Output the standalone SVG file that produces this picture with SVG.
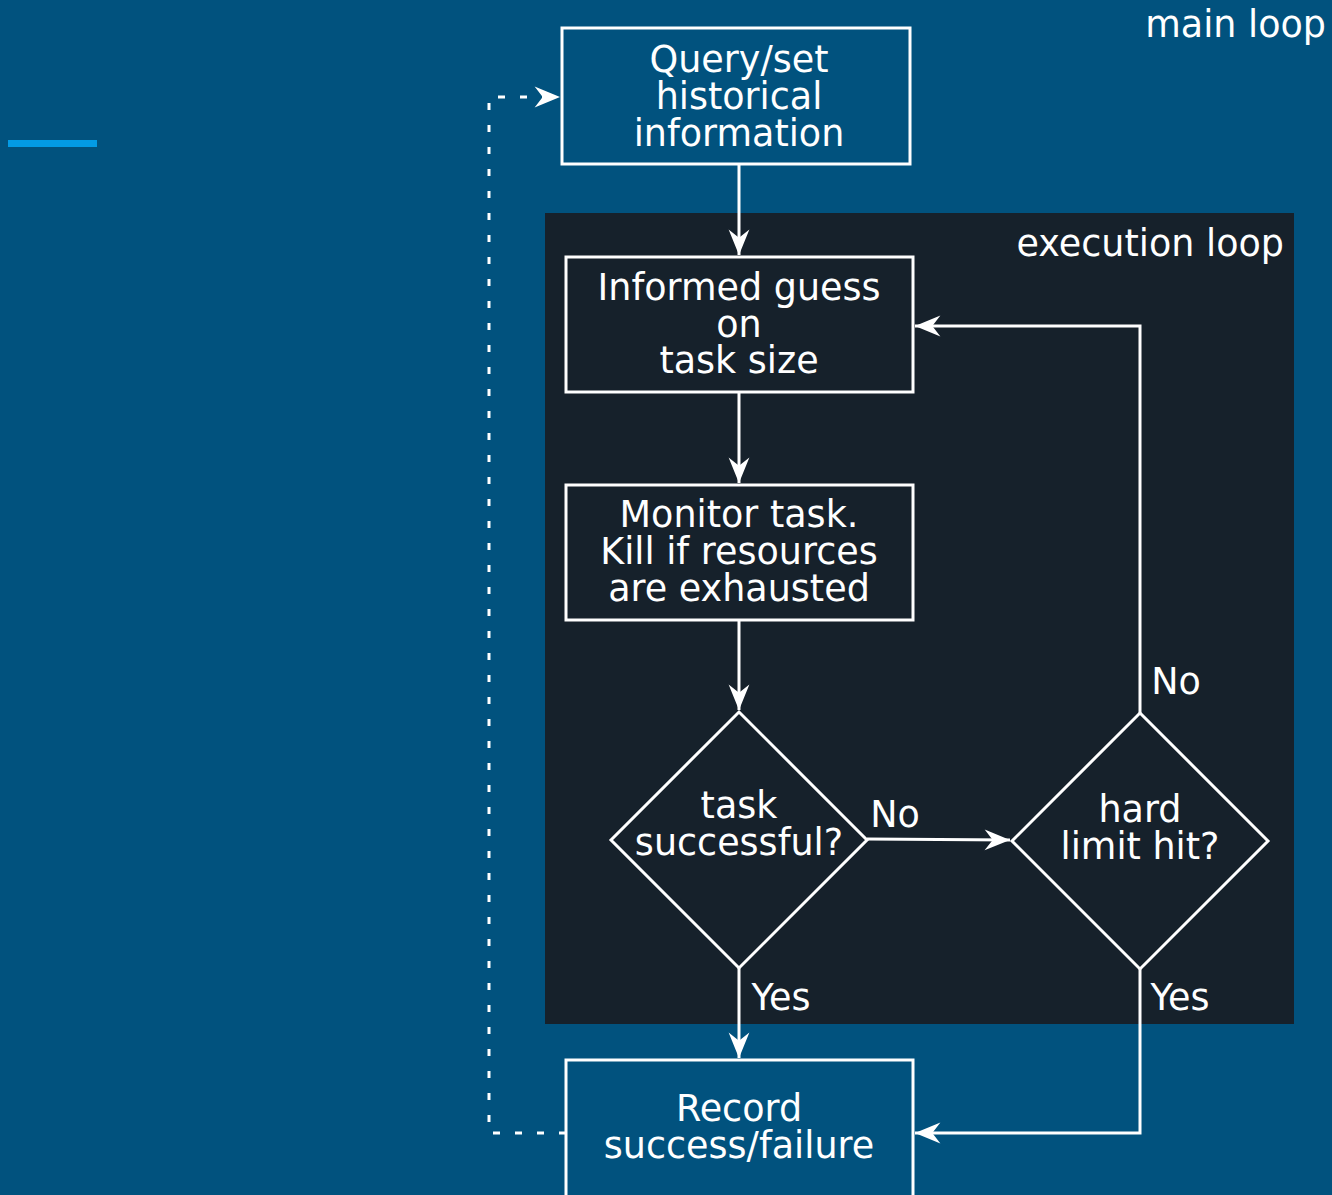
<svg xmlns="http://www.w3.org/2000/svg" width="1332" height="1195" viewBox="0 0 1332 1195">
<style>
.t{font-family:"DejaVu Sans","Liberation Sans",sans-serif;font-size:36.5px;fill:#fff;text-anchor:middle}
.r{text-anchor:end}
.l{text-anchor:start}
.box{fill:none;stroke:#fff;stroke-width:3}
.c{fill:none;stroke:#fff;stroke-width:3}
.d{fill:none;stroke:#fff;stroke-width:3;stroke-dasharray:7 15}
</style>
<defs>
<marker id="ah" markerUnits="userSpaceOnUse" markerWidth="30" markerHeight="30" viewBox="-24 -10 26 20" refX="0" refY="0" orient="auto">
<path d="M0,0 L-22,-9 L-15,0 L-22,9 Z" fill="#fff"/>
</marker>
</defs>
<rect x="0" y="0" width="1332" height="1195" fill="#01527e"/>
<rect x="8" y="140" width="89" height="7" fill="#039be5"/>
<g id="execution-loop">
<rect x="545" y="213" width="749" height="811" fill="#16212b"/>
<text class="t r" x="1284" y="256">execution loop</text>
</g>
<text class="t r" x="1326" y="37">main loop</text>
<g id="connectors">
<path class="c" d="M739,164 V255" marker-end="url(#ah)"/>
<path class="c" d="M739,392 V483" marker-end="url(#ah)"/>
<path class="c" d="M739,620 V710" marker-end="url(#ah)"/>
<path class="c" d="M867,839 L1010,840" marker-end="url(#ah)"/>
<path class="c" d="M1140,713 V326 H915" marker-end="url(#ah)"/>
<path class="c" d="M1140,969 V1133 H915" marker-end="url(#ah)"/>
<path class="c" d="M739,968 V1058" marker-end="url(#ah)"/>
<path class="d" d="M566,1133 H489 V97 H560" marker-end="url(#ah)"/>
<text class="t" x="895" y="827">No</text>
<text class="t" x="1176" y="694">No</text>
<text class="t" x="781" y="1010">Yes</text>
<text class="t" x="1180" y="1010">Yes</text>
</g>
<g id="query">
<rect class="box" x="562" y="28" width="348" height="136"/>
<text class="t" x="739" y="72">Query/set</text>
<text class="t" x="739" y="109">historical</text>
<text class="t" x="739" y="146">information</text>
</g>
<g id="guess">
<rect class="box" x="566" y="257" width="347" height="135"/>
<text class="t" x="739" y="300">Informed guess</text>
<text class="t" x="739" y="337">on</text>
<text class="t" x="739" y="373">task size</text>
</g>
<g id="monitor">
<rect class="box" x="566" y="485" width="347" height="135"/>
<text class="t" x="739" y="527">Monitor task.</text>
<text class="t" x="739" y="564">Kill if resources</text>
<text class="t" x="739" y="601">are exhausted</text>
</g>
<g id="success">
<path class="box" d="M739,712 L867,840 L739,968 L611,840 Z"/>
<text class="t" x="739" y="818">task</text>
<text class="t" x="739" y="855">successful?</text>
</g>
<g id="hardlimit">
<path class="box" d="M1140,713 L1268,841 L1140,969 L1012,841 Z"/>
<text class="t" x="1140" y="822">hard</text>
<text class="t" x="1140" y="859">limit hit?</text>
</g>
<g id="record">
<rect class="box" x="566" y="1060" width="347" height="140"/>
<text class="t" x="739" y="1121">Record</text>
<text class="t" x="739" y="1158">success/failure</text>
</g>
</svg>
